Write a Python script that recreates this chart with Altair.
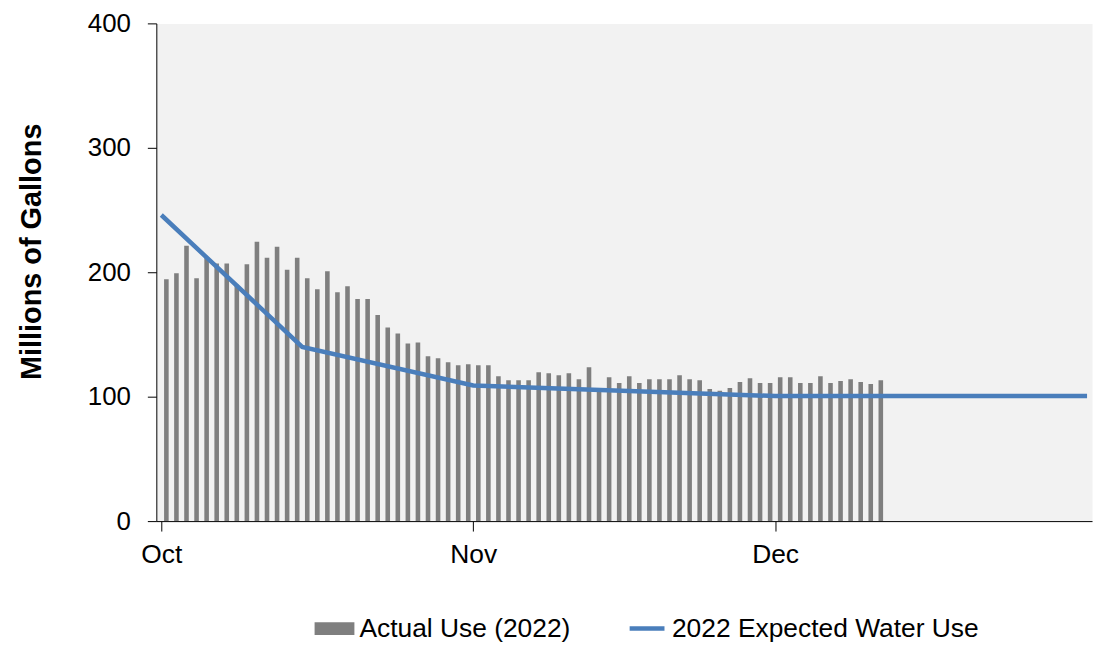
import altair as alt
import pandas as pd

# ---- data ----
actual_oct = [194.4, 199.2, 221.3, 195.2, 211.7, 207.0, 207.0, 190.0, 206.4, 224.5,
              211.7, 220.5, 202.1, 211.7, 195.2, 186.4, 200.8, 184.0, 188.8, 178.4,
              178.4, 165.6, 155.5, 150.7, 142.7, 143.5, 132.5, 130.9, 127.7, 125.3, 126.1]
actual_nov = [125.3, 125.3, 116.5, 113.3, 113.3, 113.3, 119.7, 118.9, 117.3, 118.9,
              114.1, 123.7, 106.0, 115.7, 110.9, 116.5, 110.9, 114.1, 114.1, 114.1,
              117.3, 114.1, 113.3, 106.1, 104.8, 106.9, 111.7, 114.9, 110.9, 110.9]
actual_dec = [115.7, 115.7, 110.9, 110.9, 116.5, 110.9, 112.5, 114.1, 111.7, 110.1, 113.3]
actual_use = actual_oct + actual_nov + actual_dec
start_date = "2022-10-01"

line_dates = ["2022-10-01", "2022-10-15", "2022-11-01", "2022-12-01", "2023-01-01"]
line_values = [246, 140, 109, 100.5, 100.5]

bar_label = "Actual Use (2022)"
line_label = "2022 Expected Water Use"
y_title = "Millions of Gallons"
y_ticks = [0, 100, 200, 300, 400]

days = pd.date_range(start_date, periods=len(actual_use), freq="D")
bars_df = pd.DataFrame({"date": days.strftime("%Y-%m-%d"), "value": actual_use, "series": bar_label})
line_df = pd.DataFrame({"date": line_dates, "value": line_values, "series": line_label})

FONT = "Liberation Sans"

x_scale = alt.Scale(type="utc", nice=False,
                    domain=[alt.DateTime(year=2022, month=10, date=1, utc=True),
                            alt.DateTime(year=2023, month=1, date=1, utc=True)])
x_axis = alt.Axis(title=None, format="%b", grid=False, labelFlush=False,
                  values=[alt.DateTime(year=2022, month=m, date=1, utc=True) for m in (10, 11, 12)],
                  tickSize=10, labelPadding=11, labelFontSize=26.5)
y_scale = alt.Scale(domain=[0, 400], nice=False)
y_axis = alt.Axis(title=y_title, values=y_ticks, grid=False, tickSize=9, labelPadding=17,
                  titleFontSize=29, titleFontWeight="bold", titlePadding=41, titleY=229,
                  labelFontSize=26)

X = alt.X("date:T", scale=x_scale, axis=x_axis)
Y = alt.Y("value:Q", scale=y_scale, axis=y_axis)

legend_common = dict(orient="none", title=None, labelFont=FONT, labelFontSize=26.5,
                     labelColor="black", labelOffset=5, labelLimit=0)

bars = alt.Chart(bars_df).mark_bar(size=4.6, xOffset=5.1, color="#7f7f7f").encode(
    x=X, y=Y,
    color=alt.Color("series:N", scale=alt.Scale(domain=[bar_label], range=["#7f7f7f"]),
                    legend=alt.Legend(legendX=159, legendY=588,
                                      symbolType="M-1,-0.325H1V0.325H-1Z", symbolSize=1600,
                                      symbolStrokeWidth=0, **legend_common)),
)

line = alt.Chart(line_df).mark_line(strokeWidth=4.5).encode(
    x=X, y=Y,
    stroke=alt.Stroke("series:N", scale=alt.Scale(domain=[line_label], range=["#4a7ebb"]),
                      legend=alt.Legend(legendX=473, legendY=588, symbolType="stroke",
                                        symbolStrokeWidth=4.5, symbolSize=1225, **legend_common)),
)

chart = alt.layer(bars, line).properties(
    width=940, height=500,
    padding={"left": 9, "top": 1, "right": 0, "bottom": 0},
).configure_view(fill="#f2f2f2", stroke="transparent").configure_axis(
    labelFont=FONT, titleFont=FONT, labelColor="black", titleColor="black",
    domainColor="black", tickColor="black", domainWidth=1, tickWidth=1,
)

chart.save("out.html", embed_options={"renderer": "svg", "actions": False})
